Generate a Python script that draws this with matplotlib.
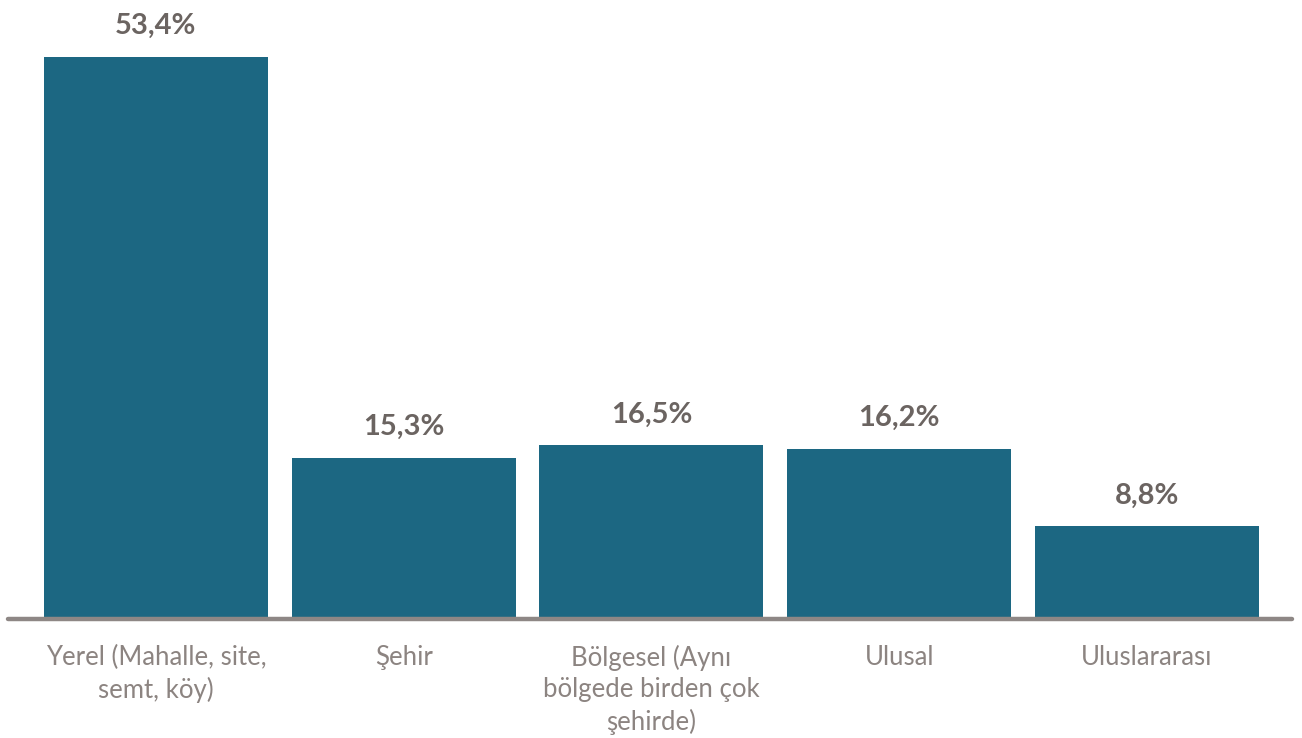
import matplotlib
matplotlib.use("Agg")
import matplotlib.pyplot as plt

categories = ["Yerel (Mahalle, site,\nsemt, köy)", "Şehir", "Bölgesel (Aynı\nbölgede birden çok\nşehirde)", "Ulusal", "Uluslararası"]
values = [53.4, 15.3, 16.5, 16.2, 8.8]
value_labels = ["53,4%", "15,3%", "16,5%", "16,2%", "8,8%"]

plt.rcParams['font.family'] = ['Lato', 'DejaVu Sans']

fig = plt.figure(figsize=(13.02, 7.38), dpi=100)
ax = fig.add_axes([8/1302, 119/738, 1284/1302, 619/738])
x = list(range(len(categories)))
ax.bar(x, values, width=0.904, color="#1C6782", zorder=2)
ax.set_xlim(-0.597, 4.585)
ax.set_ylim(0, 58.84)

for xi, v, lab in zip(x, values, value_labels):
    ax.annotate(lab, (xi, v), xytext=(0, 16.5), textcoords="offset points",
                ha="center", va="baseline", fontsize=21, fontweight="bold", color="#6B6461")

for s in ["top", "right", "left", "bottom"]:
    ax.spines[s].set_visible(False)
ax.axhline(0, color="#8E8785", lw=3.2, solid_capstyle="round", zorder=3, clip_on=False)
ax.set_yticks([])
ax.set_xticks(x)
ax.set_xticklabels(categories, fontsize=18.5, color="#8C8481", linespacing=1.3)
ax.tick_params(axis="x", length=0, pad=19)

fig.savefig("out.png", dpi=100)
